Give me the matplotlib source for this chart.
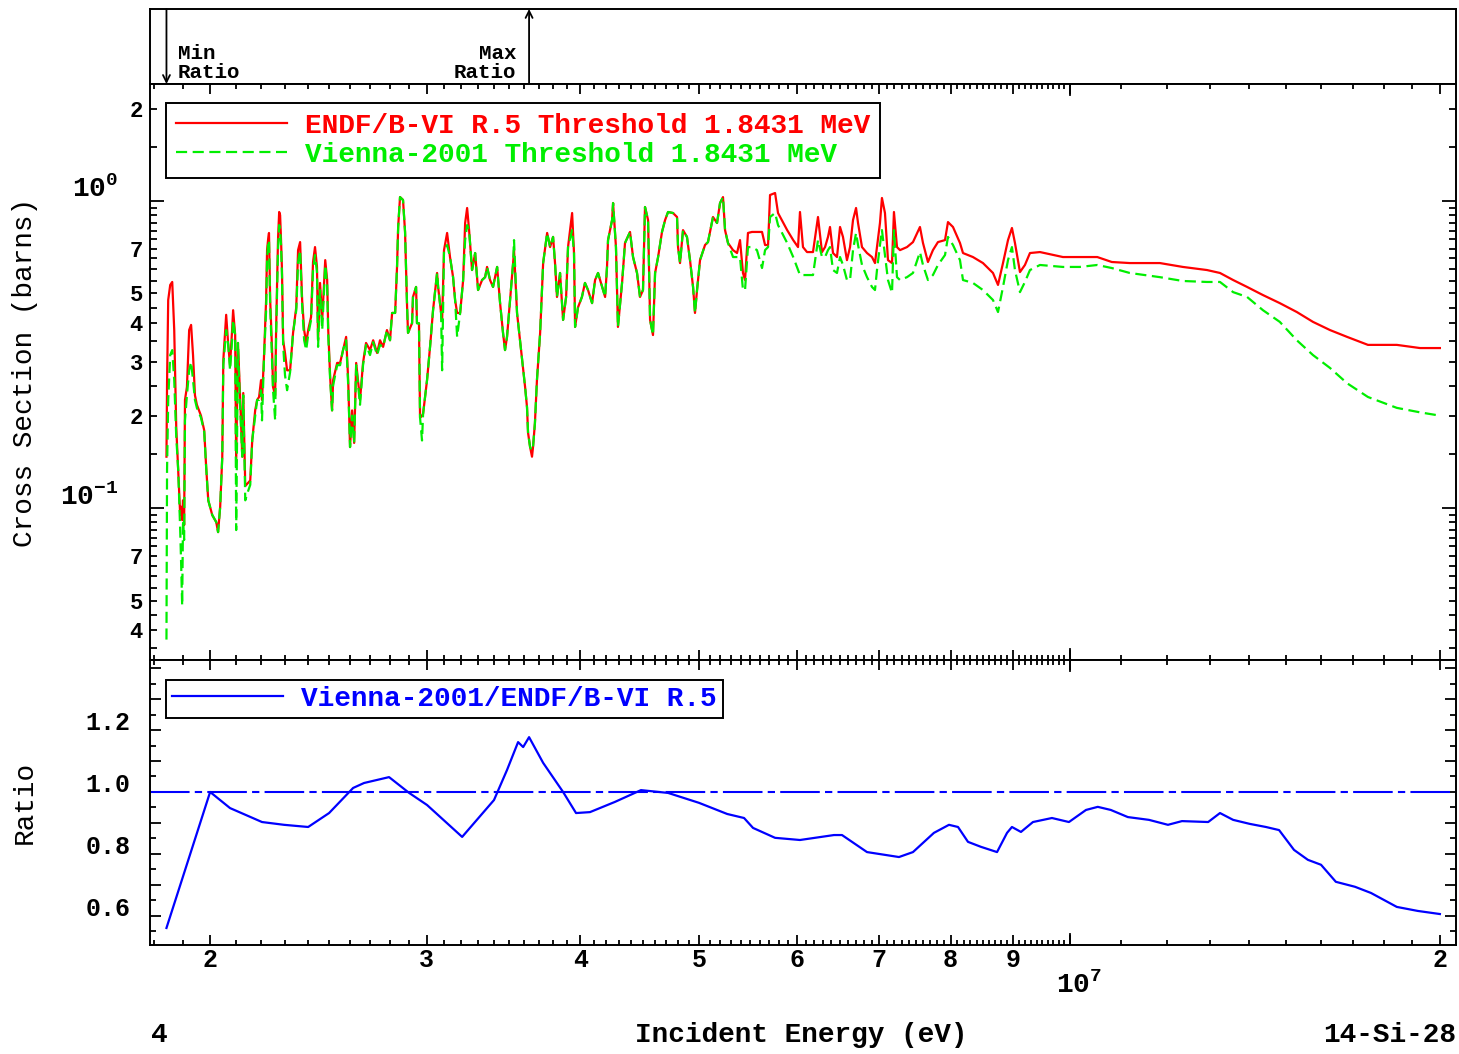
import numpy as np
import matplotlib.pyplot as plt
from matplotlib.ticker import FixedLocator, FuncFormatter, NullFormatter

plt.rcParams['font.family'] = ['Liberation Mono', 'DejaVu Sans Mono']
plt.rcParams['font.weight'] = 'bold'
plt.rcParams['mathtext.default'] = 'regular'

# incident energy grid (MeV) and (n,p) cross sections (barns)
energy = np.array([
    1.843, 1.845, 1.849, 1.856, 1.863, 1.870, 1.877, 1.884, 1.891, 1.894,
    1.898, 1.901, 1.905, 1.908, 1.915, 1.923, 1.930, 1.937, 1.944, 1.951,
    1.966, 1.978, 1.985, 1.993, 2.008, 2.023, 2.030, 2.038, 2.046, 2.050,
    2.061, 2.069, 2.076, 2.084, 2.088, 2.096, 2.100, 2.107, 2.116, 2.124,
    2.128, 2.136, 2.148, 2.156, 2.164, 2.176, 2.184, 2.192, 2.200, 2.204,
    2.212, 2.221, 2.225, 2.229, 2.233, 2.238, 2.246, 2.250, 2.259, 2.263,
    2.267, 2.271, 2.276, 2.280, 2.284, 2.288, 2.293, 2.301, 2.310, 2.323,
    2.336, 2.350, 2.358, 2.367, 2.376, 2.385, 2.394, 2.403, 2.416, 2.425,
    2.434, 2.443, 2.448, 2.457, 2.467, 2.481, 2.490, 2.495, 2.504, 2.513,
    2.518, 2.537, 2.551, 2.565, 2.580, 2.590, 2.599, 2.609, 2.619, 2.629,
    2.648, 2.663, 2.678, 2.698, 2.714, 2.734, 2.749, 2.765, 2.785, 2.801,
    2.812, 2.828, 2.838, 2.844, 2.854, 2.870, 2.881, 2.892, 2.897, 2.919,
    2.924, 2.941, 2.946, 2.957, 2.963, 2.974, 2.980, 3.002, 3.019, 3.036,
    3.059, 3.065, 3.082, 3.088, 3.099, 3.117, 3.134, 3.152, 3.164, 3.176,
    3.194, 3.212, 3.224, 3.236, 3.248, 3.266, 3.285, 3.303, 3.328, 3.347,
    3.359, 3.378, 3.397, 3.423, 3.442, 3.461, 3.474, 3.487, 3.507, 3.527,
    3.533, 3.553, 3.573, 3.593, 3.607, 3.620, 3.627, 3.641, 3.654, 3.661,
    3.674, 3.688, 3.710, 3.731, 3.759, 3.780, 3.801, 3.815, 3.829, 3.851,
    3.873, 3.895, 3.909, 3.939, 3.953, 3.961, 3.983, 4.012, 4.035, 4.058,
    4.089, 4.112, 4.135, 4.151, 4.190, 4.205, 4.213, 4.245, 4.253, 4.276,
    4.292, 4.325, 4.349, 4.390, 4.415, 4.448, 4.473, 4.498, 4.515, 4.541,
    4.558, 4.583, 4.601, 4.627, 4.661, 4.688, 4.714, 4.758, 4.794, 4.803,
    4.821, 4.848, 4.884, 4.912, 4.940, 4.958, 4.977, 5.005, 5.052, 5.080,
    5.128, 5.167, 5.196, 5.225, 5.245, 5.274, 5.324, 5.364, 5.394, 5.424,
    5.445, 5.475, 5.516, 5.568, 5.621, 5.653, 5.685, 5.706, 5.760, 5.792,
    5.892, 5.959, 6.013, 6.035, 6.069, 6.115, 6.184, 6.242, 6.289, 6.325,
    6.360, 6.384, 6.420, 6.468, 6.505, 6.541, 6.590, 6.628, 6.665, 6.703,
    6.728, 6.778, 6.842, 6.906, 6.945, 6.971, 7.010, 7.036, 7.076, 7.116,
    7.170, 7.196, 7.237, 7.278, 7.374, 7.457, 7.555, 7.598, 7.669, 7.741,
    7.814, 7.918, 7.962, 8.037, 8.143, 8.189, 8.343, 8.501, 8.662, 8.744,
    8.826, 8.909, 8.975, 9.026, 9.111, 9.196, 9.283, 9.459, 9.874, 10.19,
    10.53, 10.82, 11.19, 11.84, 12.36, 12.93, 13.25, 13.58, 13.94, 14.36,
    14.82, 15.30, 15.77, 16.28, 16.81, 17.48, 18.45, 19.27, 20.00,
])

endf_b6 = np.array([
    0.147, 0.255, 0.476, 0.533, 0.545, 0.380, 0.184, 0.133, 0.0949, 0.101,
    0.0914, 0.106, 0.0880, 0.225, 0.248, 0.380, 0.395, 0.315, 0.233, 0.217,
    0.200, 0.179, 0.137, 0.106, 0.0949, 0.0900, 0.0835, 0.101, 0.147, 0.303,
    0.426, 0.340, 0.292, 0.380, 0.441, 0.366, 0.141, 0.345, 0.225, 0.147,
    0.237, 0.118, 0.121, 0.123, 0.166, 0.208, 0.225, 0.230, 0.261, 0.225,
    0.308, 0.476, 0.692, 0.746, 0.787, 0.476, 0.327, 0.248, 0.233, 0.380,
    0.541, 0.746, 0.921, 0.900, 0.746, 0.596, 0.352, 0.320, 0.281, 0.281,
    0.372, 0.451, 0.692, 0.735, 0.476, 0.380, 0.345, 0.380, 0.419, 0.633,
    0.708, 0.610, 0.352, 0.541, 0.410, 0.642, 0.553, 0.380, 0.267, 0.208,
    0.261, 0.297, 0.297, 0.327, 0.361, 0.261, 0.158, 0.208, 0.163, 0.297,
    0.225, 0.297, 0.345, 0.327, 0.352, 0.320, 0.352, 0.335, 0.380, 0.352,
    0.432, 0.432, 0.610, 0.823, 1.030, 1.008, 0.793, 0.451, 0.372, 0.400,
    0.487, 0.525, 0.400, 0.400, 0.197, 0.200, 0.203, 0.261, 0.335, 0.441,
    0.583, 0.525, 0.432, 0.410, 0.692, 0.787, 0.657, 0.565, 0.476, 0.432,
    0.432, 0.553, 0.848, 0.949, 0.804, 0.596, 0.677, 0.513, 0.553, 0.565,
    0.610, 0.553, 0.525, 0.610, 0.465, 0.372, 0.327, 0.361, 0.476, 0.628,
    0.692, 0.432, 0.352, 0.288, 0.248, 0.213, 0.176, 0.158, 0.147, 0.158,
    0.189, 0.261, 0.372, 0.628, 0.787, 0.708, 0.764, 0.628, 0.487, 0.583,
    0.410, 0.487, 0.708, 0.914, 0.677, 0.389, 0.451, 0.487, 0.541, 0.513,
    0.465, 0.553, 0.583, 0.553, 0.487, 0.610, 0.746, 0.867, 0.985, 0.708,
    0.389, 0.541, 0.730, 0.793, 0.657, 0.583, 0.487, 0.513, 0.956, 0.867,
    0.410, 0.366, 0.583, 0.657, 0.793, 0.867, 0.921, 0.914, 0.887, 0.708,
    0.628, 0.804, 0.764, 0.642, 0.525, 0.432, 0.513, 0.642, 0.719, 0.735,
    0.887, 0.848, 0.985, 1.030, 0.804, 0.730, 0.692, 0.677, 0.746, 0.583,
    0.553, 0.787, 0.793, 0.793, 0.793, 0.719, 0.719, 1.046, 1.062, 0.914,
    0.804, 0.746, 0.708, 0.921, 0.708, 0.682, 0.682, 0.887, 0.682, 0.708,
    0.764, 0.823, 0.677, 0.657, 0.823, 0.764, 0.642, 0.708, 0.867, 0.949,
    0.848, 0.708, 0.677, 0.657, 0.628, 0.708, 0.848, 1.023, 0.914, 0.642,
    0.628, 0.921, 0.708, 0.692, 0.708, 0.735, 0.823, 0.730, 0.633, 0.692,
    0.735, 0.746, 0.854, 0.823, 0.730, 0.677, 0.657, 0.628, 0.583, 0.533,
    0.628, 0.746, 0.817, 0.730, 0.587, 0.619, 0.677, 0.682, 0.657, 0.657,
    0.657, 0.633, 0.628, 0.628, 0.610, 0.596, 0.583, 0.553, 0.525, 0.494,
    0.465, 0.435, 0.404, 0.380, 0.361, 0.340, 0.340, 0.332, 0.332,
])

vienna_2001 = np.array([
    0.0373, 0.133, 0.225, 0.315, 0.327, 0.261, 0.171, 0.133, 0.0848, 0.0677,
    0.0481, 0.0914, 0.0787, 0.193, 0.233, 0.281, 0.299, 0.261, 0.225, 0.212,
    0.197, 0.177, 0.137, 0.106, 0.0949, 0.0900, 0.0835, 0.101, 0.147, 0.292,
    0.380, 0.340, 0.281, 0.352, 0.410, 0.366, 0.0848, 0.345, 0.208, 0.147,
    0.233, 0.106, 0.114, 0.119, 0.166, 0.200, 0.225, 0.225, 0.242, 0.193,
    0.303, 0.441, 0.642, 0.719, 0.746, 0.458, 0.303, 0.242, 0.193, 0.366,
    0.513, 0.692, 0.835, 0.804, 0.719, 0.574, 0.340, 0.271, 0.242, 0.277,
    0.372, 0.441, 0.633, 0.692, 0.458, 0.352, 0.327, 0.366, 0.410, 0.596,
    0.667, 0.587, 0.335, 0.513, 0.380, 0.619, 0.533, 0.366, 0.261, 0.208,
    0.251, 0.292, 0.292, 0.327, 0.352, 0.251, 0.158, 0.200, 0.163, 0.292,
    0.217, 0.292, 0.340, 0.315, 0.347, 0.315, 0.340, 0.335, 0.380, 0.352,
    0.432, 0.432, 0.610, 0.823, 1.030, 1.008, 0.793, 0.451, 0.372, 0.400,
    0.487, 0.525, 0.400, 0.400, 0.197, 0.166, 0.203, 0.261, 0.335, 0.441,
    0.583, 0.525, 0.432, 0.281, 0.692, 0.719, 0.657, 0.565, 0.476, 0.361,
    0.432, 0.553, 0.746, 0.835, 0.804, 0.596, 0.677, 0.513, 0.553, 0.565,
    0.610, 0.553, 0.525, 0.610, 0.465, 0.372, 0.327, 0.361, 0.476, 0.628,
    0.746, 0.432, 0.352, 0.288, 0.248, 0.213, 0.176, 0.158, 0.154, 0.158,
    0.189, 0.261, 0.372, 0.628, 0.787, 0.708, 0.764, 0.628, 0.487, 0.583,
    0.410, 0.487, 0.708, 0.804, 0.677, 0.389, 0.451, 0.487, 0.541, 0.513,
    0.465, 0.553, 0.583, 0.553, 0.487, 0.610, 0.746, 0.867, 0.985, 0.708,
    0.389, 0.541, 0.730, 0.793, 0.657, 0.583, 0.487, 0.513, 0.956, 0.867,
    0.410, 0.366, 0.583, 0.657, 0.793, 0.867, 0.921, 0.914, 0.887, 0.708,
    0.628, 0.804, 0.764, 0.642, 0.525, 0.432, 0.513, 0.642, 0.719, 0.735,
    0.887, 0.848, 0.985, 1.030, 0.804, 0.730, 0.657, 0.657, 0.657, 0.513,
    0.513, 0.708, 0.708, 0.692, 0.605, 0.692, 0.708, 0.887, 0.914, 0.835,
    0.730, 0.657, 0.596, 0.574, 0.574, 0.574, 0.574, 0.746, 0.657, 0.657,
    0.692, 0.708, 0.596, 0.583, 0.657, 0.619, 0.553, 0.553, 0.692, 0.787,
    0.719, 0.619, 0.565, 0.525, 0.513, 0.596, 0.719, 0.804, 0.667, 0.553,
    0.502, 0.804, 0.565, 0.553, 0.565, 0.583, 0.682, 0.619, 0.553, 0.574,
    0.619, 0.667, 0.764, 0.719, 0.642, 0.553, 0.541, 0.513, 0.476, 0.435,
    0.525, 0.642, 0.708, 0.596, 0.505, 0.545, 0.596, 0.619, 0.610, 0.610,
    0.619, 0.605, 0.583, 0.565, 0.549, 0.545, 0.545, 0.505, 0.487, 0.441,
    0.404, 0.352, 0.315, 0.286, 0.255, 0.230, 0.212, 0.205, 0.200,
])

# averaged ratio Vienna-2001 / ENDF/B-VI
ratio_energy = np.array([
    1.843, 2.000, 2.076, 2.204, 2.297, 2.403, 2.499, 2.614, 2.668, 2.796,
    2.903, 3.002, 3.206, 3.403, 3.487, 3.560, 3.594, 3.634, 3.731, 3.873,
    3.968, 4.073, 4.268, 4.481, 4.714, 4.995, 5.266, 5.435, 5.527, 5.760,
    6.035, 6.432, 6.529, 6.842, 7.264, 7.457, 7.755, 7.977, 8.113, 8.266,
    8.468, 8.728, 8.893, 8.975, 9.128, 9.335, 9.673, 9.986, 10.31, 10.54,
    10.80, 11.15, 11.60, 12.02, 12.34, 12.96, 13.25, 13.58, 14.01, 14.44,
    14.80, 15.22, 15.62, 16.01, 16.46, 17.06, 17.58, 18.45, 19.19, 20.00,
])
ratio = np.array([
    0.561, 1.000, 0.948, 0.903, 0.894, 0.887, 0.932, 1.013, 1.029, 1.048,
    0.997, 0.958, 0.855, 0.974, 1.071, 1.161, 1.145, 1.177, 1.094, 1.000,
    0.932, 0.935, 0.968, 1.006, 0.997, 0.965, 0.929, 0.916, 0.884, 0.852,
    0.845, 0.861, 0.861, 0.806, 0.790, 0.806, 0.868, 0.894, 0.887, 0.839,
    0.823, 0.806, 0.868, 0.887, 0.871, 0.903, 0.916, 0.903, 0.942, 0.952,
    0.942, 0.919, 0.910, 0.894, 0.906, 0.903, 0.932, 0.910, 0.897, 0.887,
    0.877, 0.813, 0.781, 0.765, 0.710, 0.694, 0.674, 0.629, 0.616, 0.606,
])

endf_label = 'ENDF/B-VI R.5 Threshold 1.8431 MeV'
vienna_label = 'Vienna-2001 Threshold 1.8431 MeV'
ratio_label = 'Vienna-2001/ENDF/B-VI R.5'

RED, GREEN, BLUE = '#ff0000', '#00ee00', '#0000ff'
ev = 1e6
xlim = (1.787e6, 2.061e7)
LABEL_SIZE = 20
TICK_SIZE = 18

fig = plt.figure(figsize=(14.59, 10.54), dpi=100)
ax_top = fig.add_axes([0.1028, 0.9203, 0.8951, 0.0712])
ax = fig.add_axes([0.1028, 0.3738, 0.8951, 0.5465])
axr = fig.add_axes([0.1028, 0.1034, 0.8951, 0.2704])

for a in (ax_top, ax, axr):
    a.set_xscale('log')
    a.set_xlim(*xlim)
    for s in a.spines.values():
        s.set_linewidth(1.4)

# x ticks shared by the two data panels
x_major = [2e6, 3e6, 4e6, 5e6, 6e6, 7e6, 8e6, 9e6, 1e7, 2e7]
x_minor = [m * 1e5 for m in range(18, 100) if m % 10] + [m * 1e6 for m in range(11, 20)]

def x_fmt(v, pos):
    if abs(v - 1e7) < 1:
        return ''
    return '%d' % round(v / 10 ** np.floor(np.log10(v)))

for a in (ax, axr):
    a.xaxis.set_major_locator(FixedLocator(x_major))
    a.xaxis.set_minor_locator(FixedLocator(x_minor))
    a.xaxis.set_minor_formatter(NullFormatter())
    a.tick_params(which='both', direction='in', top=True, right=True, width=1.3)
    a.tick_params(which='major', length=7)
    a.tick_params(which='minor', length=3.5)
    # the decade tick is drawn longer
    a.axvline(1e7, 0, 11 / a.bbox.height, color='black', lw=1.3)
    a.axvline(1e7, 1 - 11 / a.bbox.height, 1, color='black', lw=1.3)
ax.xaxis.set_major_formatter(NullFormatter())
axr.xaxis.set_major_formatter(FuncFormatter(x_fmt))
axr.tick_params(axis='x', which='major', labelsize=TICK_SIZE, pad=2)
axr.annotate(r'$10^{7}$', xy=(1e7, 0), xycoords=('data', 'axes fraction'),
             xytext=(7, -29), textcoords='offset points',
             ha='center', va='center', fontsize=LABEL_SIZE)

# cross sections
ax.set_yscale('log')
ax.set_ylim(0.032, 2.405)
ax.plot(energy * ev, endf_b6, color=RED, lw=1.6, label=endf_label)
ax.plot(energy * ev, vienna_2001, color=GREEN, lw=1.6, linestyle=(0, (5, 2.5)),
        label=vienna_label)

y_minor = ([m * 0.005 for m in range(7, 20)] + [m * 0.05 for m in range(3, 20)]
           + [1.5, 2.0])
y_named = {0.04: '4', 0.05: '5', 0.07: '7', 0.2: '2', 0.3: '3', 0.4: '4',
           0.5: '5', 0.7: '7', 2.0: '2'}

def y_minor_fmt(v, pos):
    for k, s in y_named.items():
        if abs(v - k) < 1e-6:
            return s
    return ''

ax.yaxis.set_major_locator(FixedLocator([0.1, 1.0]))
ax.yaxis.set_minor_locator(FixedLocator(y_minor))
ax.yaxis.set_major_formatter(NullFormatter())
ax.yaxis.set_minor_formatter(FuncFormatter(y_minor_fmt))
ax.tick_params(axis='y', which='major', length=10)
ax.tick_params(axis='y', which='minor', length=5, labelsize=16, pad=5)
for dec in (0.1, 1.0):
    ax.annotate(r'$10^{%d}$' % round(np.log10(dec)), xy=(0, dec),
                xycoords=('axes fraction', 'data'), xytext=(-23, 8),
                textcoords='offset points', ha='right', va='center',
                fontsize=LABEL_SIZE)
ax.set_ylabel('Cross Section (barns)', fontsize=LABEL_SIZE)
ax.yaxis.set_label_coords(-0.086, 0.5)

leg = ax.legend(loc='upper left', bbox_to_anchor=(0.0123, 0.967), borderaxespad=0,
                fancybox=False, framealpha=1, edgecolor='black',
                handlelength=4.0, handletextpad=0.65, borderpad=0.35,
                labelspacing=0.12, labelcolor='linecolor',
                prop={'family': 'Liberation Mono', 'weight': 'bold', 'size': LABEL_SIZE})
leg.get_frame().set_linewidth(1.4)

# ratio panel
axr.set_ylim(0.506, 1.426)
axr.plot(ratio_energy * ev, ratio, color=BLUE, lw=1.6, label=ratio_label)
axr.axhline(1.0, color=BLUE, lw=1.5, linestyle=(0, (19, 2.5, 3.5, 2.5)))
axr.yaxis.set_major_locator(FixedLocator(np.arange(6, 15) / 10))
axr.yaxis.set_minor_locator(FixedLocator(np.arange(11, 29, 2) / 20))
axr.yaxis.set_major_formatter(FuncFormatter(
    lambda v, pos: '%.1f' % v if round(v * 10) % 2 == 0 and v < 1.3 else ''))
axr.tick_params(axis='y', which='major', length=8, labelsize=TICK_SIZE, pad=14)
axr.tick_params(axis='y', which='minor', length=4)
for lab in axr.get_yticklabels():
    lab.set_verticalalignment('baseline')
axr.set_ylabel('Ratio', fontsize=LABEL_SIZE)
axr.yaxis.set_label_coords(-0.086, 0.5)
rleg = axr.legend(loc='upper left', bbox_to_anchor=(0.0123, 0.930), borderaxespad=0,
                  fancybox=False, framealpha=1, edgecolor='black',
                  handlelength=4.0, handletextpad=0.65, borderpad=0.22,
                  labelcolor='linecolor',
                  prop={'family': 'Liberation Mono', 'weight': 'bold', 'size': LABEL_SIZE})
rleg.get_frame().set_linewidth(1.4)

# positions of the extreme ratios
ax_top.set_ylim(0, 1)
ax_top.set_xticks([])
ax_top.set_yticks([])
ax_top.minorticks_off()
e_min = ratio_energy[np.argmin(ratio)] * ev
e_max = ratio_energy[np.argmax(ratio)] * ev
arrow = dict(arrowstyle='->,head_length=0.5,head_width=0.25', lw=1.3, color='black',
             shrinkA=0, shrinkB=0)
ax_top.annotate('', xy=(e_min, 0), xytext=(e_min, 1), arrowprops=arrow)
ax_top.annotate('', xy=(e_max, 1), xytext=(e_max, 0), arrowprops=arrow)
ax_top.annotate('Min\nRatio', xy=(e_min, 0.03), xytext=(8, 0), textcoords='offset points',
                ha='left', va='bottom', fontsize=15, linespacing=1.0)
ax_top.annotate('Max\nRatio', xy=(e_max, 0.03), xytext=(-9, 0), textcoords='offset points',
                ha='right', va='bottom', fontsize=15, linespacing=1.0)

fig.text(0.549, 0.018, 'Incident Energy (eV)', ha='center', va='center', fontsize=LABEL_SIZE)
fig.text(0.109, 0.018, '4', ha='center', va='center', fontsize=LABEL_SIZE)
fig.text(0.998, 0.018, '14-Si-28', ha='right', va='center', fontsize=LABEL_SIZE)

fig.savefig('out.png', dpi=100)
